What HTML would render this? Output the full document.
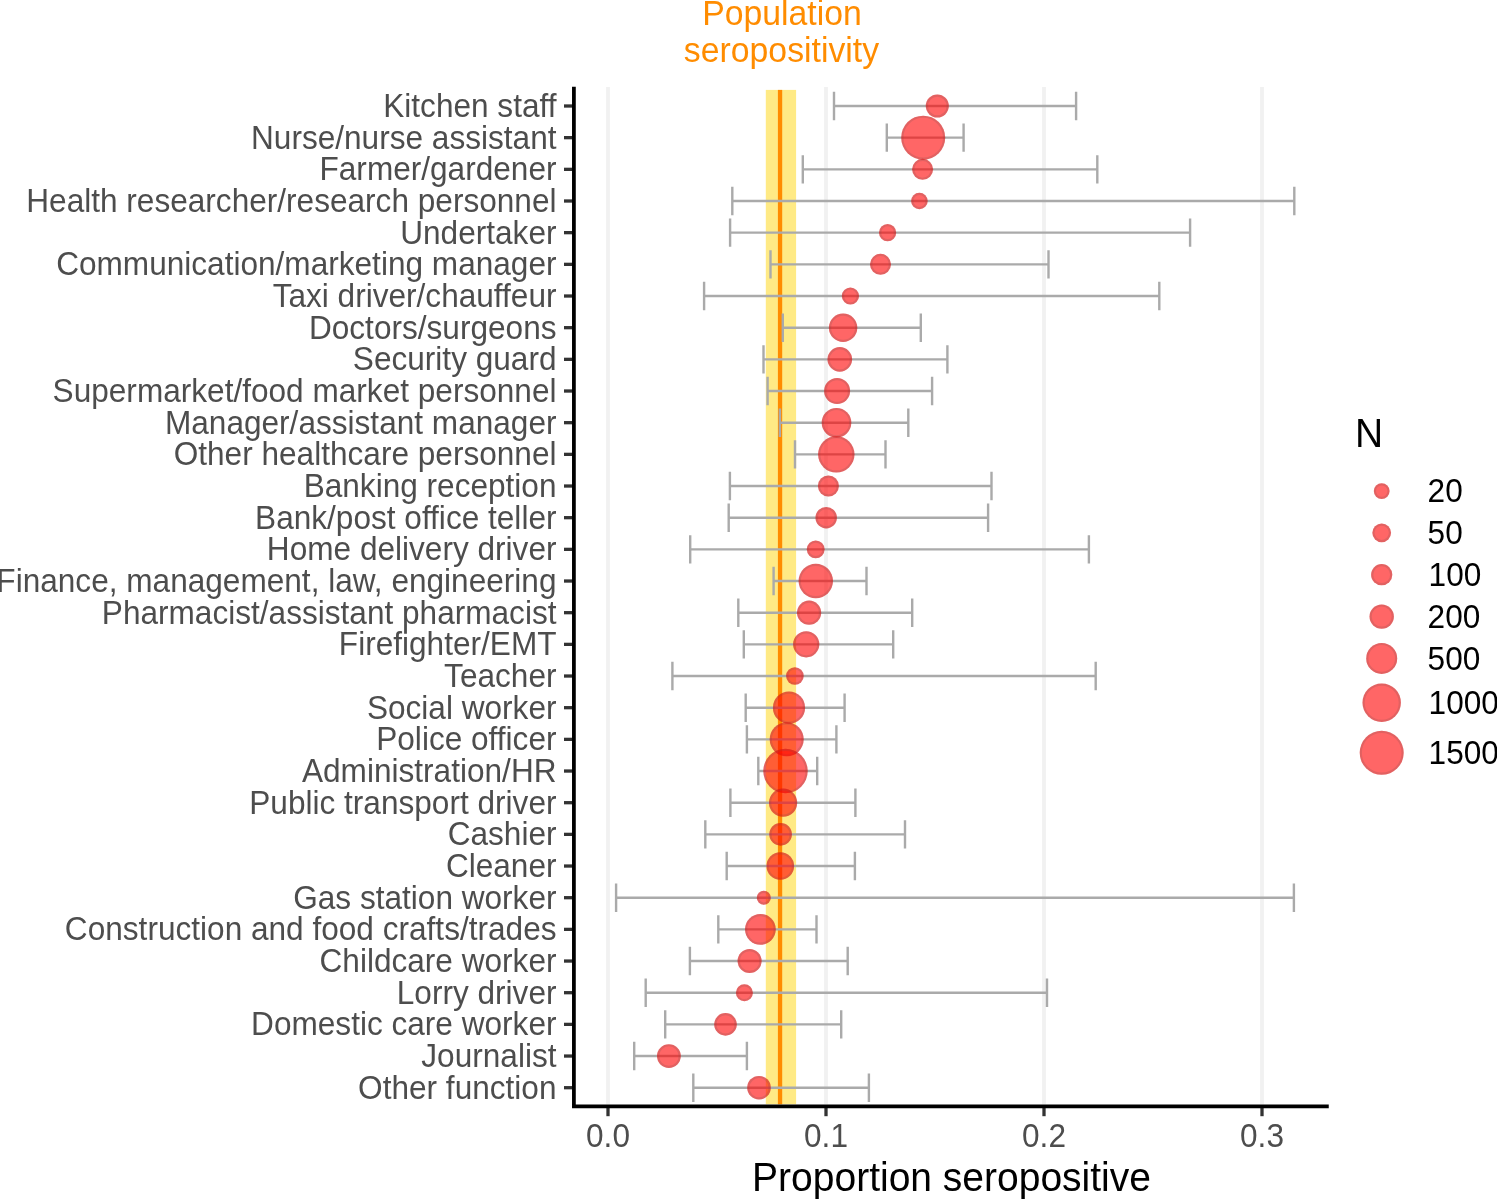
<!DOCTYPE html>
<html><head><meta charset="utf-8"><style>
html,body{margin:0;padding:0;background:#fff;}
body{width:1497px;height:1200px;overflow:hidden;}
svg{display:block;will-change:transform;}
text{font-family:"Liberation Sans",sans-serif;}
</style></head><body>
<svg width="1497" height="1200" viewBox="0 0 1497 1200">
<rect x="0" y="0" width="1497" height="1200" fill="#fff"/>

<line x1="608" y1="87" x2="608" y2="1104.5" stroke="#F1F1F1" stroke-width="3.8"/>
<line x1="826" y1="87" x2="826" y2="1104.5" stroke="#F1F1F1" stroke-width="3.8"/>
<line x1="1044" y1="87" x2="1044" y2="1104.5" stroke="#F1F1F1" stroke-width="3.8"/>
<line x1="1262" y1="87" x2="1262" y2="1104.5" stroke="#F1F1F1" stroke-width="3.8"/>
<rect x="765.8" y="89.9" width="30.3" height="1014.4" fill="#FFEA85"/>
<rect x="777.9" y="89.9" width="4.3" height="1014.4" fill="#FF8C00"/>
<g stroke="#AAAAAA" stroke-width="2.4" fill="none">
<path d="M834.0 106.00H1076.1M834.0 91.80V120.20M1076.1 91.80V120.20"/>
<path d="M886.8 137.67H963.6M886.8 123.47V151.87M963.6 123.47V151.87"/>
<path d="M802.8 169.34H1097.3M802.8 155.14V183.54M1097.3 155.14V183.54"/>
<path d="M732.3 201.00H1294.3M732.3 186.80V215.20M1294.3 186.80V215.20"/>
<path d="M730.1 232.67H1190.1M730.1 218.47V246.87M1190.1 218.47V246.87"/>
<path d="M770.5 264.34H1048.5M770.5 250.14V278.54M1048.5 250.14V278.54"/>
<path d="M704.1 296.01H1159.3M704.1 281.81V310.21M1159.3 281.81V310.21"/>
<path d="M782.8 327.68H920.8M782.8 313.48V341.88M920.8 313.48V341.88"/>
<path d="M763.5 359.34H947.4M763.5 345.14V373.54M947.4 345.14V373.54"/>
<path d="M767.6 391.01H932.1M767.6 376.81V405.21M932.1 376.81V405.21"/>
<path d="M779.9 422.68H908.3M779.9 408.48V436.88M908.3 408.48V436.88"/>
<path d="M795.0 454.35H885.5M795.0 440.15V468.55M885.5 440.15V468.55"/>
<path d="M729.9 486.02H991.5M729.9 471.82V500.22M991.5 471.82V500.22"/>
<path d="M728.7 517.68H988.1M728.7 503.48V531.88M988.1 503.48V531.88"/>
<path d="M690.2 549.35H1088.9M690.2 535.15V563.55M1088.9 535.15V563.55"/>
<path d="M773.6 581.02H866.5M773.6 566.82V595.22M866.5 566.82V595.22"/>
<path d="M738.3 612.69H912.2M738.3 598.49V626.89M912.2 598.49V626.89"/>
<path d="M743.8 644.36H893.2M743.8 630.16V658.56M893.2 630.16V658.56"/>
<path d="M672.4 676.02H1095.7M672.4 661.82V690.22M1095.7 661.82V690.22"/>
<path d="M745.7 707.69H844.6M745.7 693.49V721.89M844.6 693.49V721.89"/>
<path d="M746.9 739.36H836.4M746.9 725.16V753.56M836.4 725.16V753.56"/>
<path d="M758.3 771.03H817.2M758.3 756.83V785.23M817.2 756.83V785.23"/>
<path d="M730.4 802.70H855.4M730.4 788.50V816.90M855.4 788.50V816.90"/>
<path d="M705.3 834.36H905.0M705.3 820.16V848.56M905.0 820.16V848.56"/>
<path d="M726.7 866.03H854.9M726.7 851.83V880.23M854.9 851.83V880.23"/>
<path d="M616.1 897.70H1293.9M616.1 883.50V911.90M1293.9 883.50V911.90"/>
<path d="M718.3 929.37H816.5M718.3 915.17V943.57M816.5 915.17V943.57"/>
<path d="M689.9 961.04H847.7M689.9 946.84V975.24M847.7 946.84V975.24"/>
<path d="M645.7 992.70H1047.0M645.7 978.50V1006.90M1047.0 978.50V1006.90"/>
<path d="M665.2 1024.37H841.2M665.2 1010.17V1038.57M841.2 1010.17V1038.57"/>
<path d="M634.2 1056.04H746.9M634.2 1041.84V1070.24M746.9 1041.84V1070.24"/>
<path d="M693.3 1087.71H868.9M693.3 1073.51V1101.91M868.9 1073.51V1101.91"/>
</g>
<circle cx="937.3" cy="106.00" r="11.50" fill="rgba(255,0,0,0.6)"/>
<circle cx="937.3" cy="106.00" r="10.40" fill="none" stroke="rgba(110,80,80,0.2)" stroke-width="2.2"/>
<circle cx="923.2" cy="137.67" r="22.00" fill="rgba(255,0,0,0.6)"/>
<circle cx="923.2" cy="137.67" r="20.90" fill="none" stroke="rgba(110,80,80,0.2)" stroke-width="2.2"/>
<circle cx="922.6" cy="169.34" r="10.50" fill="rgba(255,0,0,0.6)"/>
<circle cx="922.6" cy="169.34" r="9.40" fill="none" stroke="rgba(110,80,80,0.2)" stroke-width="2.2"/>
<circle cx="919.4" cy="201.00" r="8.30" fill="rgba(255,0,0,0.6)"/>
<circle cx="919.4" cy="201.00" r="7.20" fill="none" stroke="rgba(110,80,80,0.2)" stroke-width="2.2"/>
<circle cx="887.6" cy="232.67" r="8.60" fill="rgba(255,0,0,0.6)"/>
<circle cx="887.6" cy="232.67" r="7.50" fill="none" stroke="rgba(110,80,80,0.2)" stroke-width="2.2"/>
<circle cx="880.5" cy="264.34" r="10.50" fill="rgba(255,0,0,0.6)"/>
<circle cx="880.5" cy="264.34" r="9.40" fill="none" stroke="rgba(110,80,80,0.2)" stroke-width="2.2"/>
<circle cx="850.4" cy="296.01" r="8.60" fill="rgba(255,0,0,0.6)"/>
<circle cx="850.4" cy="296.01" r="7.50" fill="none" stroke="rgba(110,80,80,0.2)" stroke-width="2.2"/>
<circle cx="843.1" cy="327.68" r="14.20" fill="rgba(255,0,0,0.6)"/>
<circle cx="843.1" cy="327.68" r="13.10" fill="none" stroke="rgba(110,80,80,0.2)" stroke-width="2.2"/>
<circle cx="839.8" cy="359.34" r="12.30" fill="rgba(255,0,0,0.6)"/>
<circle cx="839.8" cy="359.34" r="11.20" fill="none" stroke="rgba(110,80,80,0.2)" stroke-width="2.2"/>
<circle cx="837.1" cy="391.01" r="13.00" fill="rgba(255,0,0,0.6)"/>
<circle cx="837.1" cy="391.01" r="11.90" fill="none" stroke="rgba(110,80,80,0.2)" stroke-width="2.2"/>
<circle cx="836.5" cy="422.68" r="14.80" fill="rgba(255,0,0,0.6)"/>
<circle cx="836.5" cy="422.68" r="13.70" fill="none" stroke="rgba(110,80,80,0.2)" stroke-width="2.2"/>
<circle cx="836.3" cy="454.35" r="18.20" fill="rgba(255,0,0,0.6)"/>
<circle cx="836.3" cy="454.35" r="17.10" fill="none" stroke="rgba(110,80,80,0.2)" stroke-width="2.2"/>
<circle cx="828.4" cy="486.02" r="10.50" fill="rgba(255,0,0,0.6)"/>
<circle cx="828.4" cy="486.02" r="9.40" fill="none" stroke="rgba(110,80,80,0.2)" stroke-width="2.2"/>
<circle cx="826.2" cy="517.68" r="10.70" fill="rgba(255,0,0,0.6)"/>
<circle cx="826.2" cy="517.68" r="9.60" fill="none" stroke="rgba(110,80,80,0.2)" stroke-width="2.2"/>
<circle cx="815.7" cy="549.35" r="8.90" fill="rgba(255,0,0,0.6)"/>
<circle cx="815.7" cy="549.35" r="7.80" fill="none" stroke="rgba(110,80,80,0.2)" stroke-width="2.2"/>
<circle cx="815.8" cy="581.02" r="17.20" fill="rgba(255,0,0,0.6)"/>
<circle cx="815.8" cy="581.02" r="16.10" fill="none" stroke="rgba(110,80,80,0.2)" stroke-width="2.2"/>
<circle cx="809.1" cy="612.69" r="12.10" fill="rgba(255,0,0,0.6)"/>
<circle cx="809.1" cy="612.69" r="11.00" fill="none" stroke="rgba(110,80,80,0.2)" stroke-width="2.2"/>
<circle cx="806.2" cy="644.36" r="13.10" fill="rgba(255,0,0,0.6)"/>
<circle cx="806.2" cy="644.36" r="12.00" fill="none" stroke="rgba(110,80,80,0.2)" stroke-width="2.2"/>
<circle cx="794.9" cy="676.02" r="8.80" fill="rgba(255,0,0,0.6)"/>
<circle cx="794.9" cy="676.02" r="7.70" fill="none" stroke="rgba(110,80,80,0.2)" stroke-width="2.2"/>
<circle cx="789.0" cy="707.69" r="16.10" fill="rgba(255,0,0,0.6)"/>
<circle cx="789.0" cy="707.69" r="15.00" fill="none" stroke="rgba(110,80,80,0.2)" stroke-width="2.2"/>
<circle cx="786.7" cy="739.36" r="17.00" fill="rgba(255,0,0,0.6)"/>
<circle cx="786.7" cy="739.36" r="15.90" fill="none" stroke="rgba(110,80,80,0.2)" stroke-width="2.2"/>
<circle cx="785.5" cy="771.03" r="22.20" fill="rgba(255,0,0,0.6)"/>
<circle cx="785.5" cy="771.03" r="21.10" fill="none" stroke="rgba(110,80,80,0.2)" stroke-width="2.2"/>
<circle cx="783.1" cy="802.70" r="14.10" fill="rgba(255,0,0,0.6)"/>
<circle cx="783.1" cy="802.70" r="13.00" fill="none" stroke="rgba(110,80,80,0.2)" stroke-width="2.2"/>
<circle cx="780.6" cy="834.36" r="11.30" fill="rgba(255,0,0,0.6)"/>
<circle cx="780.6" cy="834.36" r="10.20" fill="none" stroke="rgba(110,80,80,0.2)" stroke-width="2.2"/>
<circle cx="780.3" cy="866.03" r="13.80" fill="rgba(255,0,0,0.6)"/>
<circle cx="780.3" cy="866.03" r="12.70" fill="none" stroke="rgba(110,80,80,0.2)" stroke-width="2.2"/>
<circle cx="763.8" cy="897.70" r="7.00" fill="rgba(255,0,0,0.6)"/>
<circle cx="763.8" cy="897.70" r="5.90" fill="none" stroke="rgba(110,80,80,0.2)" stroke-width="2.2"/>
<circle cx="760.4" cy="929.37" r="15.40" fill="rgba(255,0,0,0.6)"/>
<circle cx="760.4" cy="929.37" r="14.30" fill="none" stroke="rgba(110,80,80,0.2)" stroke-width="2.2"/>
<circle cx="749.6" cy="961.04" r="12.00" fill="rgba(255,0,0,0.6)"/>
<circle cx="749.6" cy="961.04" r="10.90" fill="none" stroke="rgba(110,80,80,0.2)" stroke-width="2.2"/>
<circle cx="744.4" cy="992.70" r="8.50" fill="rgba(255,0,0,0.6)"/>
<circle cx="744.4" cy="992.70" r="7.40" fill="none" stroke="rgba(110,80,80,0.2)" stroke-width="2.2"/>
<circle cx="725.5" cy="1024.37" r="11.30" fill="rgba(255,0,0,0.6)"/>
<circle cx="725.5" cy="1024.37" r="10.20" fill="none" stroke="rgba(110,80,80,0.2)" stroke-width="2.2"/>
<circle cx="668.9" cy="1056.04" r="11.90" fill="rgba(255,0,0,0.6)"/>
<circle cx="668.9" cy="1056.04" r="10.80" fill="none" stroke="rgba(110,80,80,0.2)" stroke-width="2.2"/>
<circle cx="759.0" cy="1087.71" r="11.80" fill="rgba(255,0,0,0.6)"/>
<circle cx="759.0" cy="1087.71" r="10.70" fill="none" stroke="rgba(110,80,80,0.2)" stroke-width="2.2"/>
<g stroke="#333333" stroke-width="3.3">
<line x1="564" y1="106.00" x2="573" y2="106.00"/>
<line x1="564" y1="137.67" x2="573" y2="137.67"/>
<line x1="564" y1="169.34" x2="573" y2="169.34"/>
<line x1="564" y1="201.00" x2="573" y2="201.00"/>
<line x1="564" y1="232.67" x2="573" y2="232.67"/>
<line x1="564" y1="264.34" x2="573" y2="264.34"/>
<line x1="564" y1="296.01" x2="573" y2="296.01"/>
<line x1="564" y1="327.68" x2="573" y2="327.68"/>
<line x1="564" y1="359.34" x2="573" y2="359.34"/>
<line x1="564" y1="391.01" x2="573" y2="391.01"/>
<line x1="564" y1="422.68" x2="573" y2="422.68"/>
<line x1="564" y1="454.35" x2="573" y2="454.35"/>
<line x1="564" y1="486.02" x2="573" y2="486.02"/>
<line x1="564" y1="517.68" x2="573" y2="517.68"/>
<line x1="564" y1="549.35" x2="573" y2="549.35"/>
<line x1="564" y1="581.02" x2="573" y2="581.02"/>
<line x1="564" y1="612.69" x2="573" y2="612.69"/>
<line x1="564" y1="644.36" x2="573" y2="644.36"/>
<line x1="564" y1="676.02" x2="573" y2="676.02"/>
<line x1="564" y1="707.69" x2="573" y2="707.69"/>
<line x1="564" y1="739.36" x2="573" y2="739.36"/>
<line x1="564" y1="771.03" x2="573" y2="771.03"/>
<line x1="564" y1="802.70" x2="573" y2="802.70"/>
<line x1="564" y1="834.36" x2="573" y2="834.36"/>
<line x1="564" y1="866.03" x2="573" y2="866.03"/>
<line x1="564" y1="897.70" x2="573" y2="897.70"/>
<line x1="564" y1="929.37" x2="573" y2="929.37"/>
<line x1="564" y1="961.04" x2="573" y2="961.04"/>
<line x1="564" y1="992.70" x2="573" y2="992.70"/>
<line x1="564" y1="1024.37" x2="573" y2="1024.37"/>
<line x1="564" y1="1056.04" x2="573" y2="1056.04"/>
<line x1="564" y1="1087.71" x2="573" y2="1087.71"/>
<line x1="608" y1="1106" x2="608" y2="1116.2"/>
<line x1="826" y1="1106" x2="826" y2="1116.2"/>
<line x1="1044" y1="1106" x2="1044" y2="1116.2"/>
<line x1="1262" y1="1106" x2="1262" y2="1116.2"/>
</g>
<path d="M573.9 86.7V1106.45H1328.75" stroke="#000" stroke-width="3.75" fill="none" stroke-linejoin="miter"/>
<g font-size="31.6" fill="#4D4D4D" text-anchor="end">
<text transform="translate(556.5,117.00) scale(1,1.025)">Kitchen staff</text>
<text transform="translate(556.5,148.67) scale(1,1.025)">Nurse/nurse assistant</text>
<text transform="translate(556.5,180.34) scale(1,1.025)">Farmer/gardener</text>
<text transform="translate(556.5,212.00) scale(1,1.025)">Health researcher/research personnel</text>
<text transform="translate(556.5,243.67) scale(1,1.025)">Undertaker</text>
<text transform="translate(556.5,275.34) scale(1,1.025)">Communication/marketing manager</text>
<text transform="translate(556.5,307.01) scale(1,1.025)">Taxi driver/chauffeur</text>
<text transform="translate(556.5,338.68) scale(1,1.025)">Doctors/surgeons</text>
<text transform="translate(556.5,370.34) scale(1,1.025)">Security guard</text>
<text transform="translate(556.5,402.01) scale(1,1.025)">Supermarket/food market personnel</text>
<text transform="translate(556.5,433.68) scale(1,1.025)">Manager/assistant manager</text>
<text transform="translate(556.5,465.35) scale(1,1.025)">Other healthcare personnel</text>
<text transform="translate(556.5,497.02) scale(1,1.025)">Banking reception</text>
<text transform="translate(556.5,528.68) scale(1,1.025)">Bank/post office teller</text>
<text transform="translate(556.5,560.35) scale(1,1.025)">Home delivery driver</text>
<text transform="translate(556.5,592.02) scale(1,1.025)">Finance, management, law, engineering</text>
<text transform="translate(556.5,623.69) scale(1,1.025)">Pharmacist/assistant pharmacist</text>
<text transform="translate(556.5,655.36) scale(1,1.025)">Firefighter/EMT</text>
<text transform="translate(556.5,687.02) scale(1,1.025)">Teacher</text>
<text transform="translate(556.5,718.69) scale(1,1.025)">Social worker</text>
<text transform="translate(556.5,750.36) scale(1,1.025)">Police officer</text>
<text transform="translate(556.5,782.03) scale(1,1.025)">Administration/HR</text>
<text transform="translate(556.5,813.70) scale(1,1.025)">Public transport driver</text>
<text transform="translate(556.5,845.36) scale(1,1.025)">Cashier</text>
<text transform="translate(556.5,877.03) scale(1,1.025)">Cleaner</text>
<text transform="translate(556.5,908.70) scale(1,1.025)">Gas station worker</text>
<text transform="translate(556.5,940.37) scale(1,1.025)">Construction and food crafts/trades</text>
<text transform="translate(556.5,972.04) scale(1,1.025)">Childcare worker</text>
<text transform="translate(556.5,1003.70) scale(1,1.025)">Lorry driver</text>
<text transform="translate(556.5,1035.37) scale(1,1.025)">Domestic care worker</text>
<text transform="translate(556.5,1067.04) scale(1,1.025)">Journalist</text>
<text transform="translate(556.5,1098.71) scale(1,1.025)">Other function</text>
</g>
<g font-size="31.6" fill="#4D4D4D" text-anchor="middle">
<text transform="translate(608,1146.50) scale(1,1.025)">0.0</text>
<text transform="translate(826,1146.50) scale(1,1.025)">0.1</text>
<text transform="translate(1044,1146.50) scale(1,1.025)">0.2</text>
<text transform="translate(1262,1146.50) scale(1,1.025)">0.3</text>
</g>
<g font-size="39" fill="#000" text-anchor="middle"><text transform="translate(951.5,1190.70) scale(1,1.025)">Proportion seropositive</text></g>
<g font-size="33.8" fill="#FF8C00" text-anchor="middle"><text transform="translate(782,25.20) scale(1,1.025)">Population</text><text transform="translate(781.5,61.70) scale(1,1.025)">seropositivity</text></g>
<g font-size="39" fill="#000"><text transform="translate(1355,446.60) scale(1,1.025)">N</text></g>
<circle cx="1381.7" cy="491.1" r="7.90" fill="rgba(255,0,0,0.6)"/>
<circle cx="1381.7" cy="491.1" r="6.80" fill="none" stroke="rgba(110,80,80,0.2)" stroke-width="2.2"/>
<circle cx="1381.7" cy="532.8" r="9.35" fill="rgba(255,0,0,0.6)"/>
<circle cx="1381.7" cy="532.8" r="8.25" fill="none" stroke="rgba(110,80,80,0.2)" stroke-width="2.2"/>
<circle cx="1381.7" cy="574.7" r="10.60" fill="rgba(255,0,0,0.6)"/>
<circle cx="1381.7" cy="574.7" r="9.50" fill="none" stroke="rgba(110,80,80,0.2)" stroke-width="2.2"/>
<circle cx="1381.7" cy="616.6" r="12.20" fill="rgba(255,0,0,0.6)"/>
<circle cx="1381.7" cy="616.6" r="11.10" fill="none" stroke="rgba(110,80,80,0.2)" stroke-width="2.2"/>
<circle cx="1381.7" cy="658.4" r="15.50" fill="rgba(255,0,0,0.6)"/>
<circle cx="1381.7" cy="658.4" r="14.40" fill="none" stroke="rgba(110,80,80,0.2)" stroke-width="2.2"/>
<circle cx="1381.7" cy="702.7" r="19.20" fill="rgba(255,0,0,0.6)"/>
<circle cx="1381.7" cy="702.7" r="18.10" fill="none" stroke="rgba(110,80,80,0.2)" stroke-width="2.2"/>
<circle cx="1381.7" cy="752.8" r="22.00" fill="rgba(255,0,0,0.6)"/>
<circle cx="1381.7" cy="752.8" r="20.90" fill="none" stroke="rgba(110,80,80,0.2)" stroke-width="2.2"/>
<g font-size="31.6" fill="#000">
<text transform="translate(1427.6,502.30) scale(1,1.025)">20</text>
<text transform="translate(1427.6,544.00) scale(1,1.025)">50</text>
<text transform="translate(1428.6,585.90) scale(1,1.025)">100</text>
<text transform="translate(1427.6,627.80) scale(1,1.025)">200</text>
<text transform="translate(1427.6,669.60) scale(1,1.025)">500</text>
<text transform="translate(1428.6,713.90) scale(1,1.025)">1000</text>
<text transform="translate(1428.6,764.00) scale(1,1.025)">1500</text>
</g>
</svg></body></html>
